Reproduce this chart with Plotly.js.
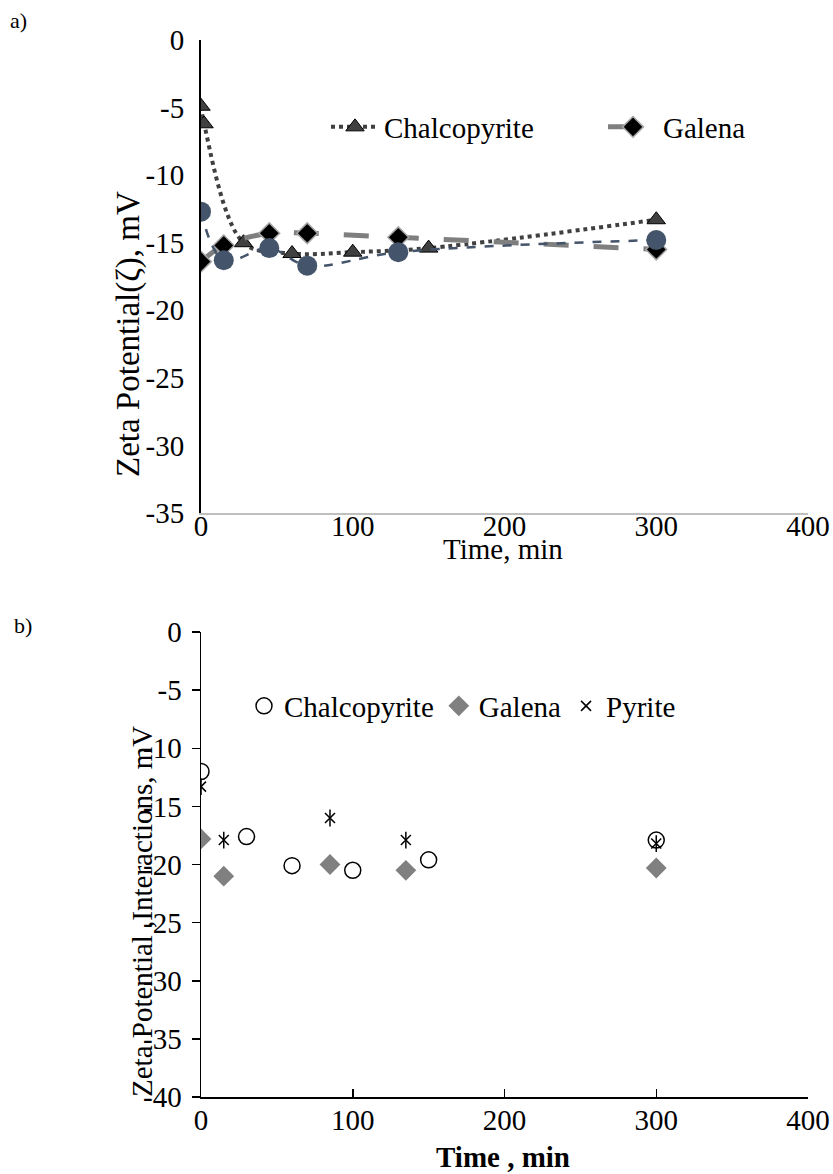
<!DOCTYPE html>
<html>
<head>
<meta charset="utf-8">
<script src="https://cdn.plot.ly/plotly-3.0.1.min.js"></script>
<style>html,body{margin:0;padding:0;background:#fff;}#chart{width:833px;height:1174px;}</style>
</head>
<body>
<div id="chart"></div>
<script>
// ---- Panel a) data ----
const chalcoA_x = [0, 2, 28, 60, 100, 150, 300];
const chalcoA_y = [-4.9, -6.2, -15.0, -15.8, -15.7, -15.4, -13.3];
const galenaA_x = [0, 15, 45, 70, 130, 300];
const galenaA_y = [-16.4, -15.2, -14.3, -14.3, -14.6, -15.5];
const pyriteA_x = [0, 15, 45, 70, 130, 300];
const pyriteA_y = [-12.7, -16.3, -15.4, -16.7, -15.7, -14.8];

// ---- Panel b) data ----
const chalcoB_x = [0, 30, 60, 100, 150, 300];
const chalcoB_y = [-12.0, -17.6, -20.1, -20.5, -19.6, -17.9];
const galenaB_x = [0, 15, 85, 135, 300];
const galenaB_y = [-17.8, -21.0, -20.0, -20.5, -20.3];
const pyriteB_x = [0, 15, 85, 135, 300];
const pyriteB_y = [-13.3, -17.9, -16.0, -17.9, -18.2];

const xTicks = [0, 100, 200, 300, 400];
const xTickText = ['0', '100', '200', '300', '400'];
const yTicksA = [0, -5, -10, -15, -20, -25, -30, -35];
const yTickTextA = ['0', '-5', '-10', '-15', '-20', '-25', '-30', '-35'];
const yTicksB = [0, -5, -10, -15, -20, -25, -30, -35, -40];
const yTickTextB = ['0', '-5', '-10', '-15', '-20', '-25', '-30', '-35', '-40'];

const FONT = '"Liberation Serif", "Times New Roman", Times, serif';
const FS = 29;

const traces = [
  {x: chalcoA_x, y: chalcoA_y, name: 'Chalcopyrite', xaxis: 'x', yaxis: 'y', mode: 'lines+markers',
   line: {color: '#404040', width: 4, dash: 'dot', shape: 'spline'},
   marker: {symbol: 'triangle-up', size: 16, color: '#404040', line: {color: '#000', width: 1}}, legend: 'legend'},
  {x: galenaA_x, y: galenaA_y, name: 'Galena', xaxis: 'x', yaxis: 'y', mode: 'lines+markers',
   line: {color: '#7F7F7F', width: 5, dash: 'longdash', shape: 'spline'},
   marker: {symbol: 'diamond', size: 16, color: '#000', line: {color: '#A6A6A6', width: 1.5}}, legend: 'legend3'},
  {x: pyriteA_x, y: pyriteA_y, name: 'Pyrite', xaxis: 'x', yaxis: 'y', mode: 'lines+markers', showlegend: false,
   line: {color: '#44546A', width: 2.5, dash: 'dash', shape: 'spline'},
   marker: {symbol: 'circle', size: 20, color: '#44546A'}},

  {x: chalcoB_x, y: chalcoB_y, name: 'Chalcopyrite', xaxis: 'x2', yaxis: 'y2', mode: 'markers',
   marker: {symbol: 'circle-open', size: 16, color: '#000', line: {width: 1.5}}, legend: 'legend2'},
  {x: galenaB_x, y: galenaB_y, name: 'Galena', xaxis: 'x2', yaxis: 'y2', mode: 'markers',
   marker: {symbol: 'diamond', size: 16, color: '#808080'}, legend: 'legend2'},
  {x: pyriteB_x, y: pyriteB_y, name: 'Pyrite', xaxis: 'x2', yaxis: 'y2', mode: 'markers',
   marker: {symbol: 'x-thin-open', size: 10, color: '#000', line: {width: 1.5, color: '#000'}}, legend: 'legend2'},
  {x: pyriteB_x, y: pyriteB_y, name: 'Pyrite', xaxis: 'x2', yaxis: 'y2', mode: 'markers', showlegend: false,
   marker: {symbol: 'line-ns-open', size: 12, color: '#000', line: {width: 1.5, color: '#000'}}}
];

const W = 833, H = 1174;
const px = v => v / W, py = v => 1 - v / H;

const legBase = {orientation: 'h', xref: 'paper', yref: 'paper', xanchor: 'left', yanchor: 'middle',
                 bgcolor: 'rgba(0,0,0,0)', borderwidth: 0, font: {family: FONT, size: FS, color: '#000'}};

const layout = {
  width: W, height: H,
  margin: {l: 0, r: 0, t: 0, b: 0, autoexpand: false},
  paper_bgcolor: '#fff', plot_bgcolor: 'rgba(0,0,0,0)',
  font: {family: FONT, size: FS, color: '#000'},
  showlegend: true,
  xaxis: {domain: [px(201), px(808)], anchor: 'y', range: [0, 400], tickvals: xTicks, ticktext: xTickText, ticks: '',
          showgrid: false, zeroline: false, showline: true, linecolor: '#BFBFBF', linewidth: 1.5,
          tickfont: {family: FONT, size: FS}, ticklabelstandoff: -13},
  yaxis: {domain: [py(513), py(40)], anchor: 'x', range: [-35, 0], tickvals: yTicksA, ticktext: yTickTextA, ticks: '',
          showgrid: false, zeroline: false, showline: true, linecolor: '#000', linewidth: 2,
          tickfont: {family: FONT, size: FS}, ticklabelstandoff: 9},
  xaxis2: {domain: [px(201), px(808)], anchor: 'y2', range: [0, 400], tickvals: xTicks, ticktext: xTickText,
           ticks: 'inside', ticklen: 8, tickcolor: '#000', tickwidth: 1.5,
           showgrid: false, zeroline: false, showline: true, linecolor: '#000', linewidth: 1.5,
           tickfont: {family: FONT, size: FS}, ticklabelstandoff: -3},
  yaxis2: {domain: [py(1097), py(632)], anchor: 'x2', range: [-40, 0], tickvals: yTicksB, ticktext: yTickTextB,
           ticks: 'outside', ticklen: 8, tickcolor: '#000', tickwidth: 1.5,
           showgrid: false, zeroline: false, showline: true, linecolor: '#000', linewidth: 1.5,
           tickfont: {family: FONT, size: FS}, ticklabelstandoff: 4},
  legend: Object.assign({}, legBase, {x: px(326), y: py(127), itemwidth: 48}),
  legend3: Object.assign({}, legBase, {x: px(603), y: py(127), itemwidth: 50}),
  legend2: Object.assign({}, legBase, {x: px(244), y: py(706), itemwidth: 30}),
  annotations: [
    {text: 'a)', x: px(8), y: py(20), xref: 'paper', yref: 'paper', xanchor: 'left', yanchor: 'middle', showarrow: false,
     font: {family: FONT, size: 22}},
    {text: 'b)', x: px(12), y: py(625), xref: 'paper', yref: 'paper', xanchor: 'left', yanchor: 'middle', showarrow: false,
     font: {family: FONT, size: 22}},
    {text: 'Zeta Potential(ζ), mV', x: px(128), y: py(334), xref: 'paper', yref: 'paper', textangle: -90,
     xanchor: 'center', yanchor: 'middle', showarrow: false, font: {family: FONT, size: 33}},
    {text: 'Time, min', x: px(503), y: py(549), xref: 'paper', yref: 'paper',
     xanchor: 'center', yanchor: 'middle', showarrow: false, font: {family: FONT, size: FS}},
    {text: 'Zeta Potential ,Interactions, mV', x: px(142), y: py(912), xref: 'paper', yref: 'paper', textangle: -90,
     xanchor: 'center', yanchor: 'middle', showarrow: false, font: {family: FONT, size: FS}},
    {text: '<b>Time , min</b>', x: px(503), y: py(1157), xref: 'paper', yref: 'paper',
     xanchor: 'center', yanchor: 'middle', showarrow: false, font: {family: FONT, size: FS}}
  ]
};

Plotly.newPlot('chart', traces, layout, {displayModeBar: false, staticPlot: true});
</script>
</body>
</html>
